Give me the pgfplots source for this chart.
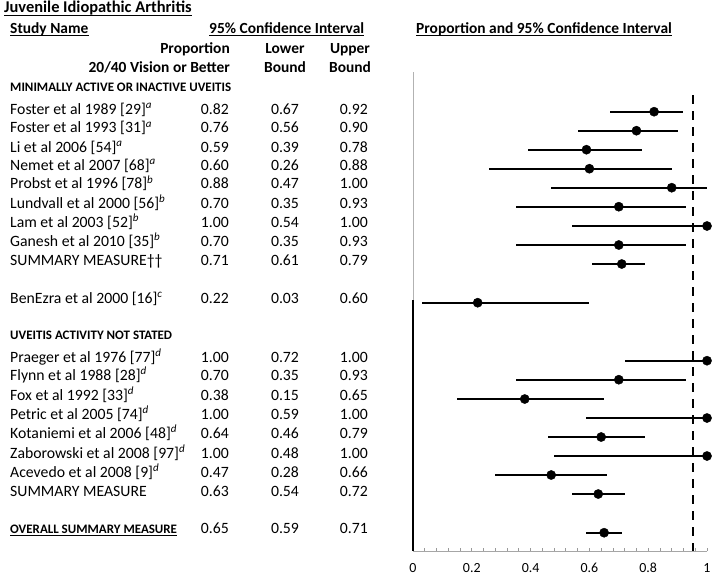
\documentclass[border=0pt]{standalone}
\usepackage{fontspec}
\setmainfont{Carlito}
\usepackage{pgfplots}
\usepackage{pgfplotstable}
\pgfplotsset{compat=1.18}

% rows: y position (pixels from top, negated), proportion, lower, upper
\pgfplotstableread{
y      p    lo   hi
-111.7 0.82 0.67 0.92
-130.7 0.76 0.56 0.90
-149.7 0.59 0.39 0.78
-168.7 0.60 0.26 0.88
-187.7 0.88 0.47 1.00
-206.7 0.70 0.35 0.93
-226.0 1.00 0.54 1.00
-245.0 0.70 0.35 0.93
-264.0 0.71 0.61 0.79
-302.7 0.22 0.03 0.60
-360.7 1.00 0.72 1.00
-379.7 0.70 0.35 0.93
-399.0 0.38 0.15 0.65
-418.0 1.00 0.59 1.00
-437.0 0.64 0.46 0.79
-456.0 1.00 0.48 1.00
-475.0 0.47 0.28 0.66
-494.0 0.63 0.54 0.72
-532.7 0.65 0.59 0.71
}\studies

\newcommand\fbody{\fontsize{15.8}{18}\selectfont}
\newcommand\fhead{\fontsize{15.5}{18}\selectfont\bfseries}
\newcommand\fsect{\fontsize{13}{15}\selectfont\bfseries}
\newcommand\ssup[1]{\textsuperscript{\itshape #1}}

\newcommand\studyrow[5]{%
  \node[anchor=base west] at (10,#1) {#2};
  \node[anchor=base east] at (229,#1) {#3};
  \node[anchor=base] at (285,#1) {#4};
  \node[anchor=base east] at (368,#1) {#5};}

\newcommand\ulnode[5]{%
  \node[anchor=#1,font=#4] (u) at (#2,#3) {#5};
  \draw[line width=1.2bp] ([yshift=-2.6bp]u.base west) -- ([yshift=-2.6bp]u.base east);}

\begin{document}
\begin{tikzpicture}
\begin{scope}[x=1bp,y=-1bp,every node/.style={inner sep=0pt,font=\fbody}]
\path (0,0) rectangle (715,575);
% headers
\ulnode{base west}{4}{12.5}{\fontsize{16.5}{18}\selectfont\bfseries}{Juvenile Idiopathic Arthritis}
\ulnode{base west}{10}{33}{\fhead}{Study Name}
\ulnode{base west}{209}{33}{\fhead}{95\% Confidence Interval}
\ulnode{base west}{416}{33}{\fhead}{Proportion and 95\% Confidence Interval}
\node[anchor=base east,font=\fhead] at (230,53) {Proportion};
\node[anchor=base east,font=\fhead] at (230,72) {20/40 Vision or Better};
\node[anchor=base,font=\fhead] at (285,53) {Lower};
\node[anchor=base,font=\fhead] at (285,72) {Bound};
\node[anchor=base,font=\fhead] at (350,53) {Upper};
\node[anchor=base,font=\fhead] at (350,72) {Bound};
\node[anchor=base west,font=\fsect] at (10,91) {MINIMALLY ACTIVE OR INACTIVE UVEITIS};
% first group
\studyrow{114}{Foster et al 1989 [29]\ssup{a}}{0.82}{0.67}{0.92}
\studyrow{132.5}{Foster et al 1993 [31]\ssup{a}}{0.76}{0.56}{0.90}
\studyrow{152}{Li et al 2006 [54]\ssup{a}}{0.59}{0.39}{0.78}
\studyrow{170}{Nemet et al 2007 [68]\ssup{a}}{0.60}{0.26}{0.88}
\studyrow{188.5}{Probst et al 1996 [78]\ssup{b}}{0.88}{0.47}{1.00}
\studyrow{208}{Lundvall et al 2000 [56]\ssup{b}}{0.70}{0.35}{0.93}
\studyrow{227}{Lam et al 2003 [52]\ssup{b}}{1.00}{0.54}{1.00}
\studyrow{246}{Ganesh et al 2010 [35]\ssup{b}}{0.70}{0.35}{0.93}
\studyrow{265}{SUMMARY MEASURE††}{0.71}{0.61}{0.79}
\studyrow{303}{BenEzra et al 2000 [16]\ssup{c}}{0.22}{0.03}{0.60}
\node[anchor=base west,font=\fsect] at (10,339.5) {UVEITIS ACTIVITY NOT STATED};
% second group
\studyrow{362}{Praeger et al 1976 [77]\ssup{d}}{1.00}{0.72}{1.00}
\studyrow{380}{Flynn et al 1988 [28]\ssup{d}}{0.70}{0.35}{0.93}
\studyrow{400}{Fox et al 1992 [33]\ssup{d}}{0.38}{0.15}{0.65}
\studyrow{419}{Petric et al 2005 [74]\ssup{d}}{1.00}{0.59}{1.00}
\studyrow{438}{Kotaniemi et al 2006 [48]\ssup{d}}{0.64}{0.46}{0.79}
\studyrow{458}{Zaborowski et al 2008 [97]\ssup{d}}{1.00}{0.48}{1.00}
\studyrow{477}{Acevedo et al 2008 [9]\ssup{d}}{0.47}{0.28}{0.66}
\studyrow{496}{SUMMARY MEASURE}{0.63}{0.54}{0.72}
\ulnode{base west}{10}{533}{\fsect}{OVERALL SUMMARY MEASURE}
\studyrow{533}{}{0.65}{0.59}{0.71}
\end{scope}

\begin{axis}[
    at={(413bp,-551bp)}, anchor=south west,
    scale only axis, width=294bp, height=479bp,
    xmin=0, xmax=1, ymin=-551, ymax=-72,
    axis x line=bottom, axis y line=none,
    x axis line style={-, gray!70, line width=0.9bp},
    xtick={0,0.2,0.4,0.6,0.8,1},
    minor x tick num=4,
    tick align=inside,
    major tick length=3.5bp, minor tick length=3.5bp,
    tick style={gray!80, line width=0.8bp},
    xticklabel style={font=\fontsize{14}{16}\selectfont, anchor=base, yshift=-21bp},
    /pgf/number format/assume math mode=true,
    clip=false,
]
\draw[gray!60, line width=0.8bp] (axis cs:0,-72) -- (axis cs:0,-300);
\draw[black, line width=1.2bp] (axis cs:0,-300) -- (axis cs:0,-551);
\draw[black, line width=2.5bp, dash pattern=on 9bp off 7bp] (axis cs:0.953,-95) -- (axis cs:0.953,-551);
\addplot[only marks, mark=*, mark size=4.6bp, black,
    error bars/.cd, x dir=both, x explicit, error mark=none,
    error bar style={line width=2.4bp, black}]
    table[x=p, y=y,
          x error plus expr=\thisrow{hi}-\thisrow{p},
          x error minus expr=\thisrow{p}-\thisrow{lo}] {\studies};
\end{axis}
\end{tikzpicture}
\end{document}
